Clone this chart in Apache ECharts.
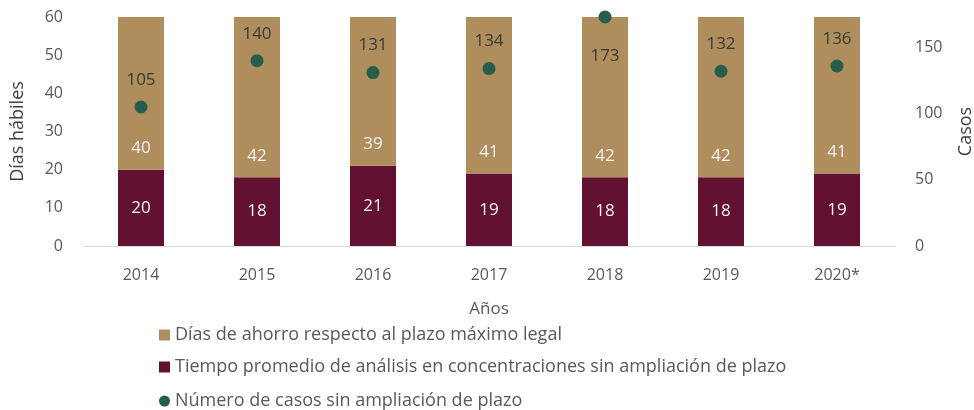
<!DOCTYPE html>
<html>
<head>
<meta charset="utf-8">
<script src="https://cdn.jsdelivr.net/npm/echarts@6/dist/echarts.min.js"></script>
<style>
  html, body { margin: 0; padding: 0; background: #fff; }
  #chart { width: 974px; height: 410px; }
</style>
</head>
<body>
<div id="chart"></div>
<script>
// data
const years = ['2014', '2015', '2016', '2017', '2018', '2019', '2020*']
const tiempoPromedio = [20, 18, 21, 19, 18, 18, 19]
const diasAhorro = [40, 42, 39, 41, 42, 42, 41]
const numeroCasos = [105, 140, 131, 134, 173, 132, 136]

const legendNames = [
    'Días de ahorro respecto al plazo máximo legal',
    'Tiempo promedio de análisis en concentraciones sin ampliación de plazo',
    'Número de casos sin ampliación de plazo',
]

const tan = '#B08D5C'
const maroon = '#621132'
const green = '#275D4B'
const textGray = '#595959'
const font = 'Open Sans'

const chart = echarts.init(document.getElementById('chart'))

// one legend per row so nothing wraps into columns
const legendRow = (name, icon, top) => ({
    orient: 'horizontal',
    left: 159,
    top: top,
    padding: 0,
    itemWidth: 11,
    itemHeight: 11,
    itemGap: 0,
    selectedMode: false,
    textStyle: { color: textGray, fontSize: 18, fontFamily: font },
    data: [{ name: name, icon: icon }],
})

chart.setOption({
    backgroundColor: '#fff',
    textStyle: { fontFamily: font },
    grid: { left: 83, right: 79, top: 17, bottom: 164, outerBoundsMode: 'none' },
    legend: [
        legendRow(legendNames[0], 'rect', 326),
        legendRow(legendNames[1], 'rect', 358),
        legendRow(legendNames[2], 'circle', 392),
    ],
    xAxis: {
        type: 'category',
        data: years,
        name: 'Años',
        nameLocation: 'middle',
        nameGap: 55,
        nameTextStyle: { color: textGray, fontSize: 17, fontFamily: font },
        axisLine: { lineStyle: { color: '#d9d9d9', width: 1 } },
        axisTick: { show: false },
        axisLabel: { color: textGray, fontSize: 16, margin: 21, fontFamily: font },
    },
    yAxis: [
        {
            type: 'value',
            min: 0,
            max: 60,
            interval: 10,
            name: 'Días hábiles',
            nameLocation: 'middle',
            nameGap: 56,
            nameTextStyle: { color: '#404040', fontSize: 18, fontFamily: font },
            axisLine: { show: false },
            axisTick: { show: false },
            splitLine: { show: false },
            axisLabel: { color: textGray, fontSize: 16, margin: 20, fontFamily: font },
        },
        {
            type: 'value',
            min: 0,
            max: 173,
            interval: 50,
            name: 'Casos',
            nameLocation: 'middle',
            nameGap: 62,
            nameTextStyle: { color: '#404040', fontSize: 18, fontFamily: font },
            axisLine: { show: false },
            axisTick: { show: false },
            splitLine: { show: false },
            axisLabel: { color: textGray, fontSize: 16, margin: 20, showMaxLabel: false, fontFamily: font },
        },
    ],
    series: [
        {
            name: legendNames[1],
            type: 'bar',
            stack: 'dias',
            barWidth: 46,
            data: tiempoPromedio,
            itemStyle: { color: maroon },
            label: { show: true, position: 'inside', color: '#f2f2f2', fontSize: 17, fontFamily: font },
        },
        {
            name: legendNames[0],
            type: 'bar',
            stack: 'dias',
            barWidth: 46,
            data: diasAhorro,
            itemStyle: { color: tan },
            label: { show: true, position: 'insideBottom', distance: 13, color: '#f2f2f2', fontSize: 17, fontFamily: font },
        },
        {
            name: legendNames[2],
            type: 'scatter',
            yAxisIndex: 1,
            symbolSize: 13,
            itemStyle: { color: green, opacity: 1 },
            data: numeroCasos.map((v, i) => ({
                value: v,
                label: i === 4 ? { position: 'bottom', distance: 24 } : {},
            })),
            label: { show: true, position: 'top', distance: 12, color: '#333d37', fontSize: 17, fontFamily: font },
            z: 5,
        },
    ],
})
</script>
</body>
</html>
